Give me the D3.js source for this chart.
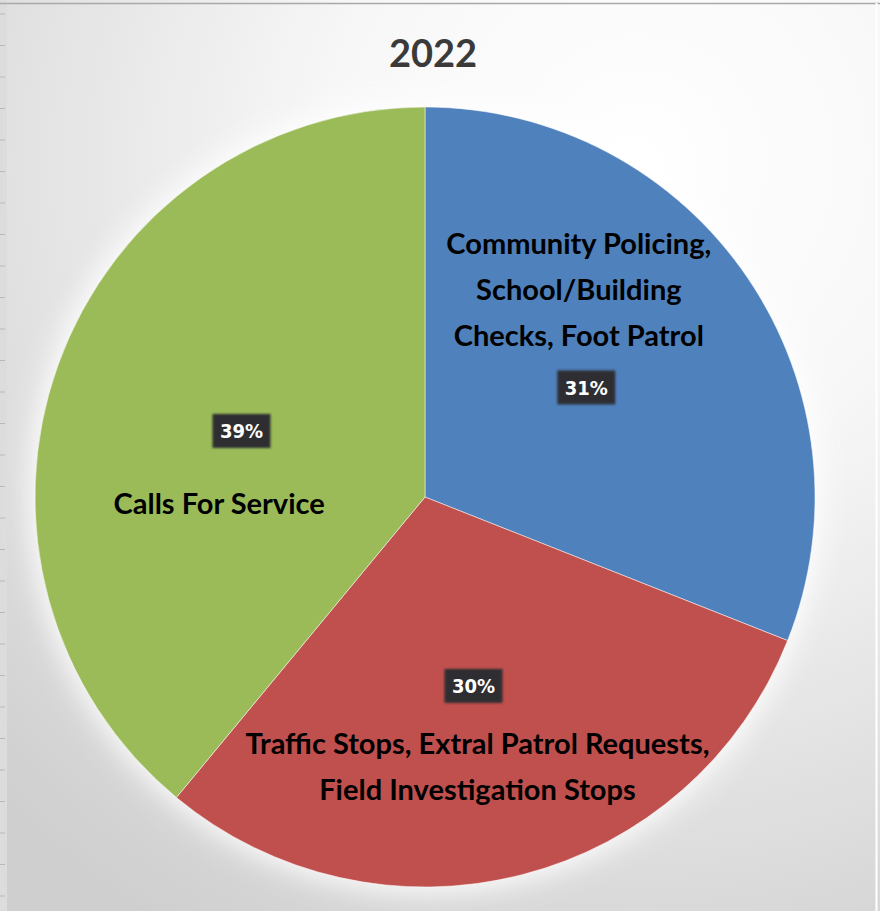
<!DOCTYPE html>
<html>
<head>
<meta charset="utf-8">
<script src="https://cdn.jsdelivr.net/npm/d3@7"></script>
<style>
  body { margin: 0; background: #fff; }
  svg { display: block; }
  .cat { font-family: Lato, "Open Sans", sans-serif; font-weight: bold; fill: #000; }
  .pct { font-family: "DejaVu Sans Condensed", "DejaVu Sans", sans-serif; font-weight: bold; fill: #fff; }
</style>
</head>
<body>
<div class="graph"></div>
<script>
// data
var title = '2022';
var categories = ['Community Policing, School/Building Checks, Foot Patrol',
                  'Traffic Stops, Extral Patrol Requests, Field Investigation Stops',
                  'Calls For Service'];
var values = [31, 30, 39];
var labelLines = [
  ['Community Policing,', 'School/Building', 'Checks, Foot Patrol'],
  ['Traffic Stops, Extral Patrol Requests,', 'Field Investigation Stops'],
  ['Calls For Service']
];
var colors = ['#4f81bd', '#c0504d', '#9bbb59'];

// layout
var width = 880, height = 911;
var cx = 425, cy = 497, radius = 390;
// where each category label sits (angle in degrees, radius)
var catPos = [{ a: 36.6, r: 258 }, { a: 169, r: 275 }, { a: 268, r: 206 }];

var svg = d3.select('.graph')
  .append('svg')
  .attr('width', width)
  .attr('height', height);

var defs = svg.append('defs');
var bg = defs.append('radialGradient')
  .attr('id', 'bg')
  .attr('gradientUnits', 'userSpaceOnUse')
  .attr('cx', 640).attr('cy', 160).attr('r', 900);
bg.append('stop').attr('offset', '0%').attr('stop-color', '#ffffff');
bg.append('stop').attr('offset', '35%').attr('stop-color', '#f7f7f7');
bg.append('stop').attr('offset', '100%').attr('stop-color', '#cfcfcf');

var blur = defs.append('filter').attr('id', 'glow')
  .attr('x', '-20%').attr('y', '-20%').attr('width', '140%').attr('height', '140%');
blur.append('feGaussianBlur').attr('stdDeviation', 14);

var boxBlur = defs.append('filter').attr('id', 'soft');
boxBlur.append('feGaussianBlur').attr('stdDeviation', 0.8);

svg.append('rect')
  .attr('x', 0).attr('y', 0)
  .attr('width', width).attr('height', height)
  .attr('fill', 'url(#bg)');

// spreadsheet edge on the left and frame
svg.append('rect').attr('x', 0).attr('y', 0).attr('width', 7).attr('height', height).attr('fill', '#dcdcdc');
svg.append('g').selectAll('line')
  .data(d3.range(14, height, 31.5))
  .enter().append('line')
  .attr('x1', 0).attr('x2', 5)
  .attr('y1', function (d) { return d; }).attr('y2', function (d) { return d; })
  .attr('stroke', '#b8b8b8');
svg.append('line').attr('x1', 0).attr('x2', width).attr('y1', 3.5).attr('y2', 3.5)
  .attr('stroke', '#a9a9a9').attr('stroke-width', 1.5);
svg.append('line').attr('x1', 876.5).attr('x2', 876.5).attr('y1', 3).attr('y2', height)
  .attr('stroke', '#ffffff').attr('stroke-width', 2);

svg.append('text')
  .attr('class', 'cat')
  .attr('x', 433).attr('y', 67)
  .attr('text-anchor', 'middle')
  .style('font-size', '38px')
  .style('fill', '#3a3a3a')
  .text(title);

var pie = d3.pie().sort(null).value(function (d) { return d; });
var slices = pie(values);

var arc = d3.arc().innerRadius(0).outerRadius(radius);
var pctArc = d3.arc().innerRadius(195).outerRadius(195);

var g = svg.append('g')
  .attr('transform', 'translate(' + cx + ',' + cy + ')');

g.append('circle')
  .attr('r', radius + 6)
  .attr('fill', '#ffffff')
  .attr('opacity', 0.9)
  .attr('filter', 'url(#glow)');

g.selectAll('path.slice')
  .data(slices)
  .enter()
  .append('path')
  .attr('class', 'slice')
  .attr('d', arc)
  .attr('fill', function (d, i) { return colors[i]; })
  .attr('stroke', '#ffffff')
  .attr('stroke-opacity', 0.5)
  .attr('stroke-width', 1);

// percentage boxes
var pct = g.selectAll('g.pct')
  .data(slices)
  .enter()
  .append('g')
  .attr('transform', function (d) { return 'translate(' + pctArc.centroid(d) + ')'; });
pct.append('rect')
  .attr('x', -29).attr('y', -17)
  .attr('width', 58).attr('height', 34)
  .attr('fill', '#2e2f33')
  .attr('filter', 'url(#soft)');
pct.append('text')
  .attr('class', 'pct')
  .attr('text-anchor', 'middle')
  .attr('dy', '0.36em')
  .style('font-size', '20px')
  .text(function (d) { return d.data + '%'; });

// category labels
var cat = g.selectAll('text.catlabel')
  .data(slices)
  .enter()
  .append('text')
  .attr('class', 'cat catlabel')
  .attr('text-anchor', 'middle')
  .style('font-size', '29px')
  .attr('transform', function (d, i) {
    var a = catPos[i].a * Math.PI / 180;
    var n = labelLines[i].length;
    var x = catPos[i].r * Math.sin(a);
    var y = -catPos[i].r * Math.cos(a) - (n - 1) * 23;
    return 'translate(' + x + ',' + y + ')';
  });
cat.selectAll('tspan')
  .data(function (d, i) { return labelLines[i]; })
  .enter()
  .append('tspan')
  .attr('x', 0)
  .attr('dy', function (d, j) { return j === 0 ? '0.35em' : '46px'; })
  .text(function (d) { return d; });
</script>
</body>
</html>
